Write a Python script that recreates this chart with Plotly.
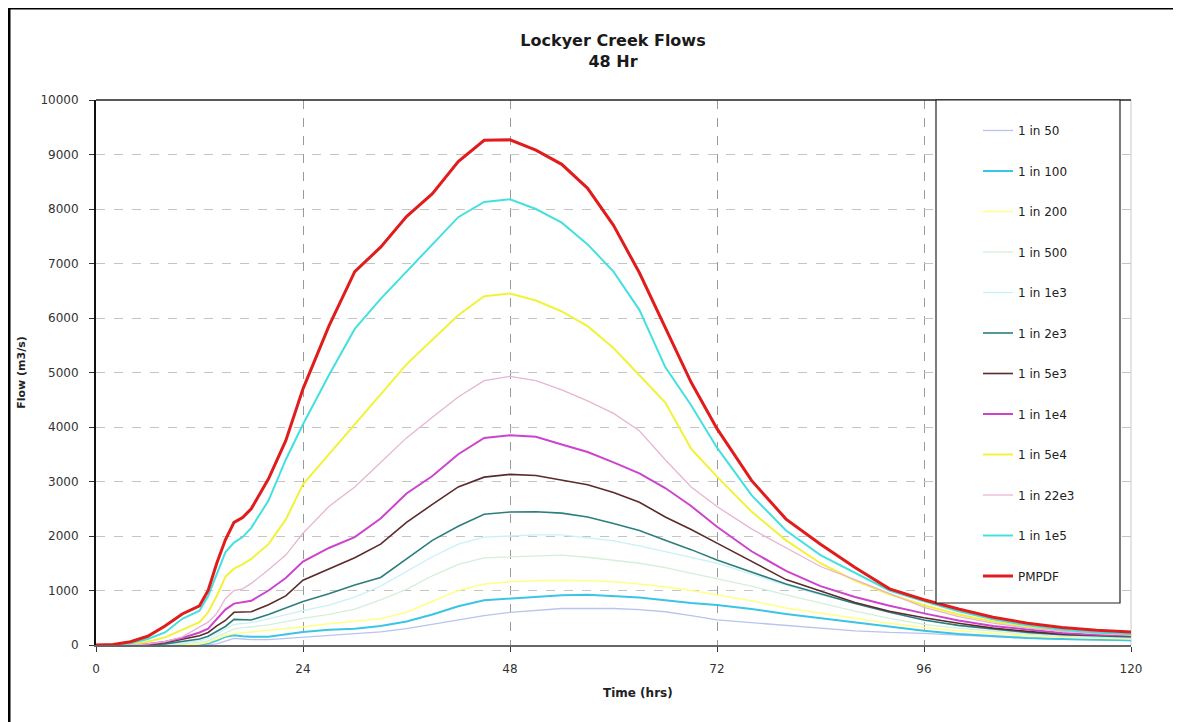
import plotly.graph_objects as go

# ---------------- data ----------------
time_hrs = [0, 2, 4, 6, 8, 10, 12, 13, 14, 15, 16, 17, 18, 20, 22, 24, 27, 30, 33, 36,
            39, 42, 45, 48, 51, 54, 57, 60, 63, 66, 69, 72, 76, 80, 84, 88, 92, 96,
            100, 104, 108, 112, 116, 120]

series_names = ["1 in 50", "1 in 100", "1 in 200", "1 in 500", "1 in 1e3", "1 in 2e3",
                "1 in 5e3", "1 in 1e4", "1 in 5e4", "1 in 22e3", "1 in 1e5", "PMPDF"]

flow_1in50 = [0, 0, 0, 0, 0, 0, 0, 5, 20, 70, 120, 110, 100, 100, 120, 150, 180, 210, 240, 300,
              380, 450, 540, 600, 640, 670, 670, 670, 650, 610, 540, 460, 410, 360, 310, 260, 230, 215,
              180, 150, 125, 105, 90, 80]
flow_1in100 = [0, 0, 0, 0, 0, 0, 0, 30, 80, 150, 180, 160, 150, 150, 190, 240, 280, 300, 350, 430,
               560, 710, 820, 850, 890, 915, 920, 900, 870, 820, 770, 735, 660, 570, 490, 410, 330, 260,
               200, 160, 130, 110, 95, 85]
flow_1in200 = [0, 0, 0, 0, 0, 0, 20, 50, 110, 170, 210, 220, 240, 270, 300, 330, 390, 440, 480, 600,
               800, 1000, 1120, 1160, 1180, 1190, 1180, 1160, 1120, 1070, 1000, 920, 810, 680, 580, 490, 400, 320,
               260, 210, 170, 140, 120, 110]
flow_1in500 = [0, 0, 0, 0, 0, 20, 50, 80, 150, 220, 290, 320, 330, 370, 430, 490, 560, 660, 830, 1020,
               1270, 1480, 1600, 1620, 1640, 1650, 1610, 1560, 1500, 1420, 1320, 1220, 1080, 920, 770, 620, 490, 380,
               310, 250, 200, 160, 135, 120]
flow_1in1e3 = [0, 0, 0, 0, 10, 40, 80, 120, 200, 290, 380, 400, 410, 480, 560, 630, 730, 880, 1080, 1350,
               1620, 1850, 1980, 2000, 2020, 2020, 1970, 1910, 1820, 1720, 1610, 1500, 1300, 1100, 920, 760, 600, 450,
               350, 280, 220, 180, 150, 130]
flow_1in2e3 = [0, 0, 0, 0, 20, 60, 110, 160, 250, 340, 470, 470, 460, 560, 680, 800, 940, 1100, 1240, 1580,
               1920, 2180, 2400, 2440, 2445, 2420, 2350, 2230, 2100, 1920, 1750, 1560, 1340, 1120, 940, 760, 600, 460,
               360, 290, 230, 190, 165, 150]
flow_1in5e3 = [0, 0, 0, 10, 40, 100, 170, 230, 350, 450, 600, 605, 610, 740, 900, 1190, 1400, 1600, 1850, 2250,
               2580, 2900, 3080, 3130, 3110, 3030, 2940, 2800, 2620, 2350, 2120, 1870, 1530, 1200, 990, 780, 620, 500,
               400, 310, 250, 200, 180, 165]
flow_1in1e4 = [0, 0, 0, 20, 60, 130, 230, 300, 480, 650, 760, 780, 810, 1000, 1230, 1530, 1780, 1980, 2320, 2780,
               3100, 3500, 3800, 3850, 3820, 3680, 3540, 3350, 3150, 2880, 2550, 2170, 1720, 1360, 1080, 880, 720, 580,
               450, 350, 280, 220, 190, 175]
flow_1in5e4 = [0, 0, 20, 60, 140, 280, 420, 600, 900, 1250, 1400, 1480, 1580, 1850, 2300, 2950, 3500, 4050, 4600, 5150,
               5600, 6050, 6400, 6450, 6320, 6120, 5850, 5450, 4950, 4450, 3600, 3090, 2450, 1920, 1500, 1180, 930, 730,
               560, 430, 330, 260, 220, 190]
flow_1in22e3 = [0, 0, 0, 20, 60, 150, 330, 420, 580, 850, 1000, 1030, 1130, 1380, 1650, 2050, 2540, 2900, 3350, 3800,
                4180, 4550, 4850, 4930, 4850, 4680, 4480, 4250, 3930, 3400, 2900, 2540, 2130, 1780, 1440, 1200, 950, 690,
                520, 400, 310, 250, 210, 190]
flow_1in1e5 = [0, 0, 30, 110, 230, 480, 630, 900, 1300, 1700, 1880, 1980, 2150, 2650, 3400, 4050, 4950, 5800, 6350, 6850,
               7350, 7850, 8130, 8180, 8000, 7750, 7350, 6850, 6150, 5100, 4400, 3620, 2750, 2100, 1650, 1320, 1000, 800,
               620, 470, 360, 280, 230, 200]
flow_pmpdf = [0, 10, 60, 160, 350, 570, 720, 1000, 1500, 1930, 2250, 2340, 2500, 3050, 3750, 4700, 5850, 6850, 7300, 7860,
              8280, 8870, 9260, 9270, 9080, 8820, 8380, 7700, 6830, 5820, 4820, 3970, 3020, 2310, 1850, 1420, 1030, 830,
              660, 510, 400, 320, 270, 240]

all_flows = [flow_1in50, flow_1in100, flow_1in200, flow_1in500, flow_1in1e3, flow_1in2e3,
             flow_1in5e3, flow_1in1e4, flow_1in5e4, flow_1in22e3, flow_1in1e5, flow_pmpdf]

x_tick_vals = [0, 24, 48, 72, 96, 120]
y_tick_vals = [0, 1000, 2000, 3000, 4000, 5000, 6000, 7000, 8000, 9000, 10000]

# ---------------- styles ----------------
colors = ["#b9c3ee", "#3cc4e4", "#ffff88", "#d2f0da", "#c8f2f6", "#2e7d7d",
          "#5c2a2a", "#cc44cc", "#f2f23a", "#e8b4d4", "#44e0e0", "#e01c1c"]
widths = [1.3, 2, 1.5, 1.3, 1.3, 1.6, 1.6, 2, 2, 1.3, 2, 3]

OFF = 8  # page body margin of the browser
W, H = 1181 - OFF, 722 - OFF
L, R, T, B = 96 - OFF, W - (1131 - OFF), 100 - OFF, H - (645 - OFF)
pw, ph = W - L - R, H - T - B


def px(xwin):
    return (xwin - OFF - L) / pw


def py(ywin):
    return (H - B - (ywin - OFF)) / ph


fig = go.Figure()
for name, ys, c, w in zip(series_names, all_flows, colors, widths):
    fig.add_trace(go.Scatter(x=time_hrs, y=ys, mode="lines", name=name, legendgroup=name,
                             line=dict(color=c, width=w)))

font_fam = "DejaVu Sans, Arial, sans-serif"

fig.update_layout(
    width=W, height=H,
    margin=dict(l=L, r=R, t=T, b=B, autoexpand=False),
    paper_bgcolor="white", plot_bgcolor="white",
    font=dict(family=font_fam, color="#333333", size=12),
    title=dict(text="<b>Lockyer Creek Flows<br>48 Hr</b>", xref="paper", x=px(613), xanchor="center",
               yref="container", y=1 - 38 / H, yanchor="top",
               font=dict(size=16, color="#1a1a1a", family=font_fam)),
    showlegend=True,
    legend=dict(x=px(978), xanchor="left", y=py(116), yanchor="top",
                bgcolor="rgba(0,0,0,0)", borderwidth=0, tracegroupgap=21.5,
                font=dict(size=12, color="#222222", family=font_fam)),
    xaxis=dict(range=[0, 120], tickvals=x_tick_vals, showgrid=True, gridcolor="#9a9a9a",
               griddash="dash", gridwidth=1, zeroline=False, showline=True, linecolor="#666666",
               linewidth=2, ticks="outside", ticklen=5, tickcolor="#333333", ticklabelstandoff=7,
               tickfont=dict(size=12, color="#333333")),
    yaxis=dict(range=[0, 10000], tickvals=y_tick_vals, tickformat="d", showgrid=True,
               gridcolor="#c4c4c4", griddash="dash", gridwidth=1, zeroline=False, showline=True,
               linecolor="#111111", linewidth=2, ticks="outside", ticklen=5, tickcolor="#333333",
               ticklabelstandoff=8, tickfont=dict(size=12, color="#333333"),
               title=dict(text="<b>Flow (m3/s)</b>", font=dict(size=11, color="#222222"), standoff=13)),
    annotations=[
        dict(text="<b>Time (hrs)</b>", xref="paper", yref="paper", x=px(638), y=py(693),
             xanchor="center", yanchor="middle", showarrow=False,
             font=dict(size=12, color="#222222", family=font_fam)),
    ],
    shapes=[
        # top frame of plot area
        dict(type="line", xref="paper", yref="paper", x0=0, x1=1, y0=1, y1=1,
             line=dict(color="#222222", width=1.5), layer="above"),
        # right frame of plot area
        dict(type="line", xref="paper", yref="paper", x0=1, x1=1, y0=0, y1=1,
             line=dict(color="#c8c8c8", width=1), layer="below"),
        # legend box
        dict(type="rect", xref="paper", yref="paper", x0=px(936), x1=px(1120), y0=py(603), y1=1,
             fillcolor="white", line=dict(color="#222222", width=1.2), layer="above"),
        # outer border of the figure (bottom edge falls outside the view, as in the original)
        dict(type="rect", xref="paper", yref="paper", x0=px(9), x1=px(1177), y0=py(728), y1=py(8),
             line=dict(color="black", width=3), fillcolor="rgba(0,0,0,0)", layer="above"),
    ],
)

fig.write_html("out.html")
